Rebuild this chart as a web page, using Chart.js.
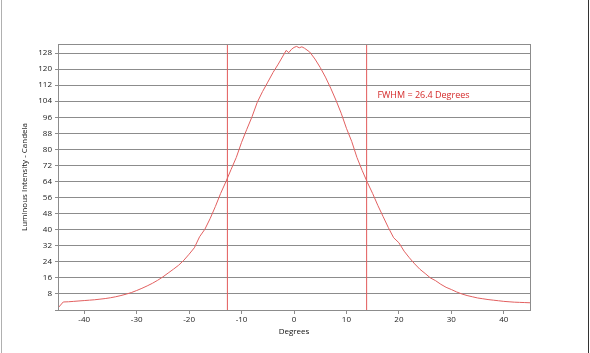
<!DOCTYPE html>
<html>
<head>
<meta charset="utf-8">
<script src="https://cdn.jsdelivr.net/npm/chart.js@4/dist/chart.umd.min.js"></script>
<style>
  html, body { margin: 0; padding: 0; background: #fff; }
  #wrap { position: relative; width: 590px; height: 353px; }
  #edgeL { position: absolute; left: 1px; top: 0; width: 1px; height: 353px; background: #b0b0b0; }
  #edgeR { position: absolute; left: 588px; top: 0; width: 1px; height: 353px; background: #333; }
</style>
</head>
<body>
<div id="wrap">
  <canvas id="chart" width="590" height="353"></canvas>
  <div id="edgeL"></div>
  <div id="edgeR"></div>
</div>
<script>
// angulo (grados) y luminosidad medida
const degrees = [
  -45, -44, -43, -42, -41, -40, -39, -38, -37, -36, -35, -34, -33, -32, -31,
  -30, -29, -28, -27, -26, -25, -24, -23, -22, -21, -20, -19, -18, -17, -16,
  -15, -14, -13, -12, -11, -10, -9, -8, -7, -6, -5, -4, -3, -2, -1.5, -1,
  -0.5, 0, 0.5, 1, 1.5, 2, 3, 4, 5, 6, 7, 8, 9, 10, 11, 12, 13, 14, 15, 16,
  17, 18, 19, 20, 21, 22, 23, 24, 25, 26, 27, 28, 29, 30, 31, 32, 33, 34, 35,
  36, 37, 38, 39, 40, 41, 42, 43, 44, 45
];
const candela = [
  1.0, 4.0, 4.1, 4.3, 4.5, 4.7, 4.9, 5.1, 5.4, 5.7, 6.1, 6.6, 7.2, 7.9, 8.7,
  9.7, 10.8, 12.0, 13.3, 14.8, 16.5, 18.4, 20.3, 22.3, 24.8, 27.8, 31.0, 36.5, 40.2, 45.5,
  51.5, 58.0, 63.8, 70.0, 76.0, 83.5, 90.0, 96.3, 103.5, 108.8, 113.5, 118.3, 122.5, 127.0, 129.3, 128.2,
  129.8, 130.8, 131.3, 130.6, 131.1, 130.4, 128.5, 125.0, 120.8, 116.0, 110.5, 104.5, 98.0, 90.5, 84.0, 76.0, 69.5, 63.5, 58.0, 52.0,
  46.5, 41.0, 36.0, 33.5, 29.3, 26.0, 23.0, 20.3, 18.2, 16.0, 14.6, 12.8, 11.3, 10.2, 9.0, 8.0, 7.2, 6.6, 6.0,
  5.6, 5.2, 4.9, 4.6, 4.3, 4.1, 3.9, 3.8, 3.7, 3.6
];

// lineas de media altura (FWHM)
const halfMaxLeft = -12.7;
const halfMaxRight = 13.85;
const fwhmText = "FWHM = 26.4 Degrees";
const fwhmLabelAt = { x: 15.9, y: 107 };

const xTicks = [-40, -30, -20, -10, 0, 10, 20, 30, 40];
const yTicks = [0, 8, 16, 24, 32, 40, 48, 56, 64, 72, 80, 88, 96, 104, 112, 120, 128];
const xMin = -45, xMax = 45, yMin = 0, yMax = 132.5;

const FONT = "'Open Sans', 'DejaVu Sans', sans-serif";

const curva = degrees.map((d, i) => ({ x: d, y: candela[i] }));

// marco del area de grafico + texto FWHM
const extras = {
  id: "extras",
  afterDatasetsDraw(chart) {
    const { ctx, chartArea: a, scales } = chart;
    ctx.save();
    ctx.strokeStyle = "#8c8c8c";
    ctx.lineWidth = 1;
    ctx.strokeRect(Math.round(a.left) + 0.5, Math.round(a.top) + 0.5,
      Math.round(a.right - a.left), Math.round(a.bottom - a.top));
    ctx.fillStyle = "#d42a2a";
    ctx.font = "9px " + FONT;
    ctx.textBaseline = "middle";
    ctx.fillText(fwhmText, scales.x.getPixelForValue(fwhmLabelAt.x), scales.y.getPixelForValue(fwhmLabelAt.y));
    ctx.restore();
  }
};

new Chart(document.getElementById("chart"), {
  type: "line",
  data: {
    datasets: [
      {
        data: curva,
        borderColor: "rgb(226,96,96)",
        borderWidth: 1,
        pointRadius: 0,
        tension: 0
      },
      {
        data: [{ x: halfMaxLeft, y: yMin }, { x: halfMaxLeft, y: yMax }],
        borderColor: "rgb(226,90,90)",
        borderWidth: 1,
        pointRadius: 0
      },
      {
        data: [{ x: halfMaxRight, y: yMin }, { x: halfMaxRight, y: yMax }],
        borderColor: "rgb(226,90,90)",
        borderWidth: 1,
        pointRadius: 0
      }
    ]
  },
  options: {
    responsive: false,
    animation: false,
    layout: { padding: { left: 0, top: 44, right: 60, bottom: 0 } },
    plugins: { legend: { display: false }, tooltip: { enabled: false } },
    scales: {
      x: {
        type: "linear",
        min: xMin,
        max: xMax,
        afterBuildTicks: (axis) => { axis.ticks = xTicks.map(v => ({ value: v })); },
        afterFit: (axis) => { axis.height = 43; },
        grid: { drawOnChartArea: false, color: "#8c8c8c", tickLength: 4 },
        border: { color: "#8c8c8c" },
        ticks: { color: "#222", font: { family: FONT, size: 8 }, padding: 1, maxRotation: 0 },
        title: { display: true, text: "Degrees", color: "#111", font: { family: FONT, size: 8 }, padding: { top: 0, bottom: 16 } }
      },
      y: {
        min: yMin,
        max: yMax,
        afterBuildTicks: (axis) => { axis.ticks = yTicks.map(v => ({ value: v })); },
        afterFit: (axis) => { axis.width = 58; },
        grid: { color: "#8c8c8c", tickLength: 3 },
        border: { color: "#8c8c8c" },
        ticks: {
          color: "#222",
          font: { family: FONT, size: 8 },
          padding: 3,
          callback: (v) => (v === 0 ? "" : v)
        },
        title: { display: true, text: "Luminous Intensity - Candela", color: "#111", font: { family: FONT, size: 8 }, padding: { top: 20, bottom: 0 } }
      }
    }
  },
  plugins: [extras]
});
</script>
</body>
</html>
